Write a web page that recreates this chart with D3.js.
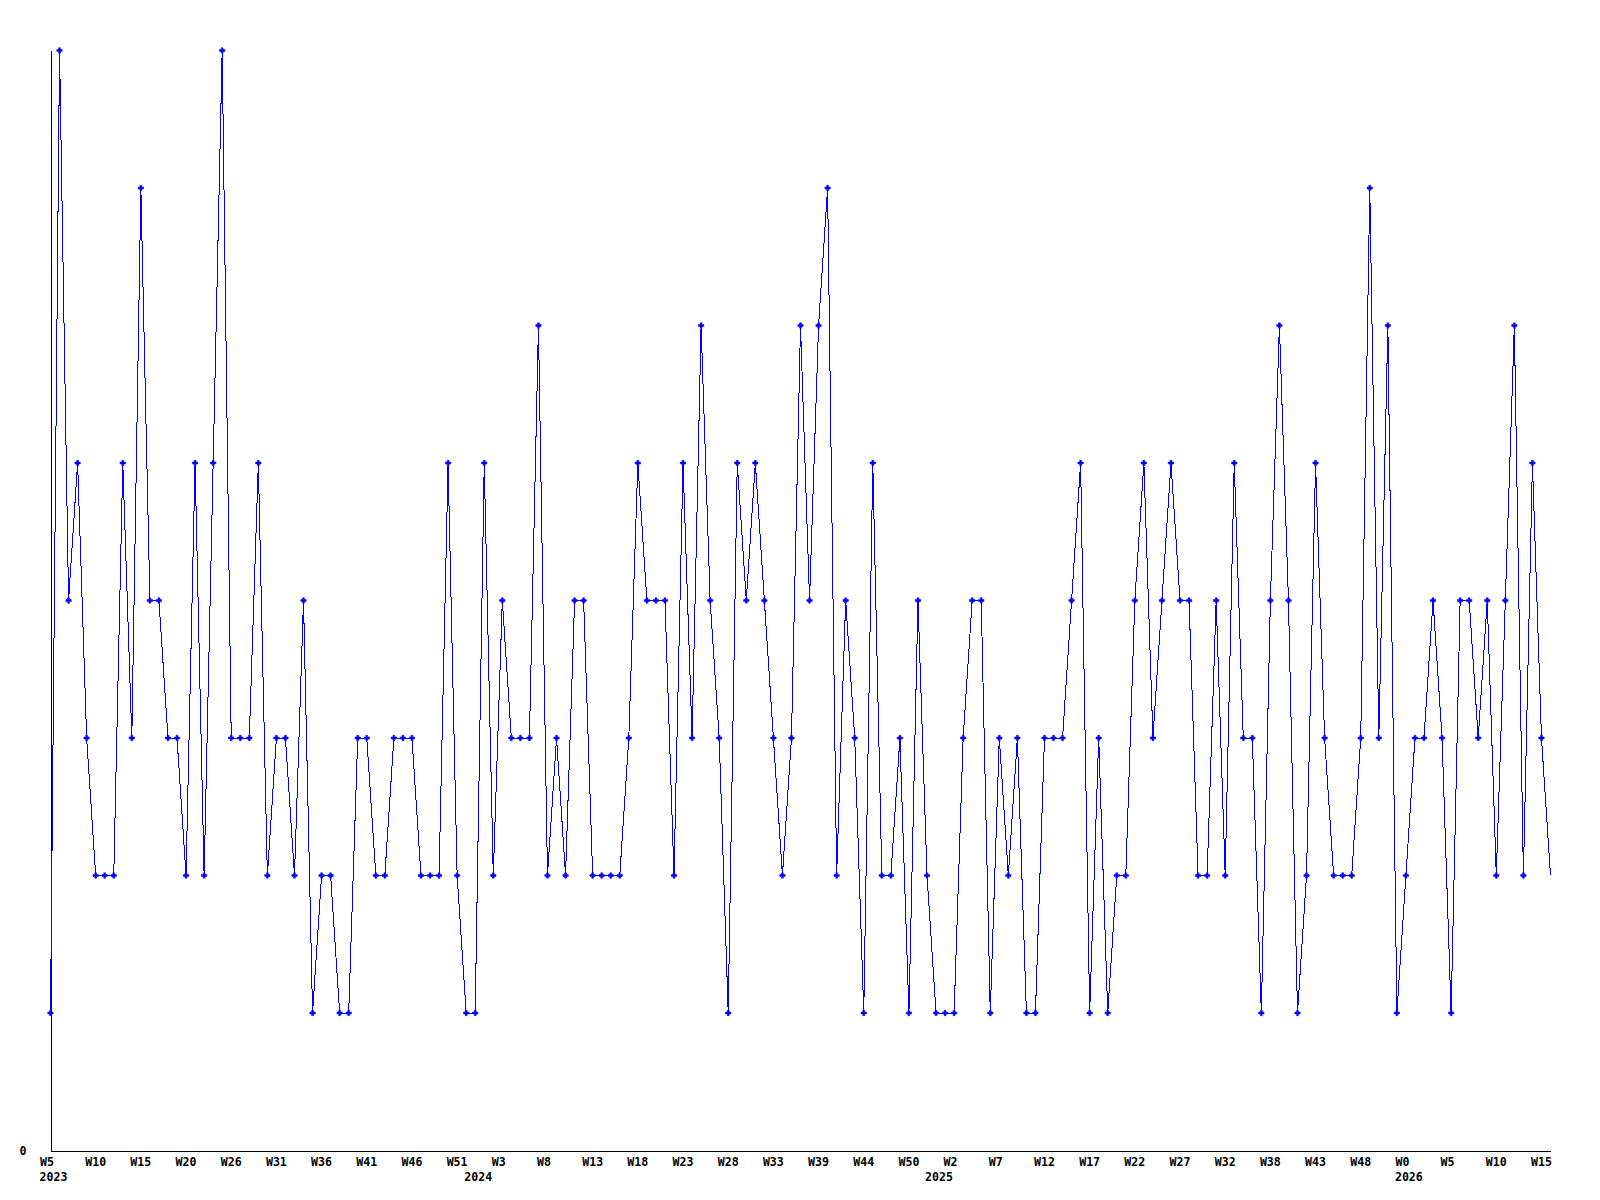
<!DOCTYPE html>
<html>
<head>
<meta charset="utf-8">
<script src="https://cdn.jsdelivr.net/npm/d3@7"></script>
<style>
  html, body { margin: 0; padding: 0; background: #fff; }
  svg { display: block; }
  text { font-family: "DejaVu Sans Mono", monospace; font-weight: bold; font-size: 11.6px; fill: #000; }
</style>
</head>
<body>
<svg id="chart" width="1600" height="1200"></svg>
<script>
// Weekly values, 2023 W5 onward (one per point)
const values = [
  1,8,4,5,3,2,2,2,5,3,7,4,4,3,3,2,5,2,5,8,3,3,3,5,2,3,3,2,
  4,1,2,2,1,1,3,3,2,2,3,3,3,2,2,2,5,2,1,1,5,2,4,3,3,3,6,2,
  3,2,4,4,2,2,2,2,3,5,4,4,4,2,5,3,6,4,3,1,5,4,5,4,3,2,3,6,
  4,6,7,2,4,3,1,5,2,2,3,1,4,2,1,1,1,3,4,4,1,3,2,3,1,1,3,
  3,3,4,5,1,3,1,2,2,4,5,3,4,5,4,4,2,2,4,2,5,3,3,1,4,6,4,1,
  2,5,3,2,2,2,3,7,3,6,1,2,3,3,4,3,1,4,4,3,4,2,4,6,2,5,3,2
];
// Tick labels, one every 5 points
const tickLabels = ["W5","W10","W15","W20","W26","W31","W36","W41","W46","W51",
  "W3","W8","W13","W18","W23","W28","W33","W39","W44","W50",
  "W2","W7","W12","W17","W22","W27","W32","W38","W43","W48",
  "W0","W5","W10","W15"];
const tickStep = 5;
// Year labels and the point index where each year begins
const yearLabels = ["2023","2024","2025","2026"];
const yearIndex = [0,47,98,150];
const yTickValues = [0];

const svg = d3.select("#chart");
const mLeft = 50.5, mRight = 1550.5, mTop = 50.5, mBottom = 1150.5;

const x = d3.scaleLinear().domain([0, values.length - 1]).range([mLeft, mRight]);
const y = d3.scaleLinear().domain([0, 8]).range([mBottom, mTop]);

// y axis
const yAxis = d3.axisLeft(y).tickValues(yTickValues).tickSize(0).tickSizeOuter(0).tickPadding(0);
const gy = svg.append("g").attr("transform", `translate(${mLeft},0)`).call(yAxis);
gy.select(".domain").attr("stroke", "#000").attr("shape-rendering", "crispEdges");
gy.selectAll("text").attr("text-anchor", "start").attr("x", -31).attr("dy", "0.35em");

// x axis
const tickIdx = tickLabels.map((t, k) => k * tickStep);
const xAxis = d3.axisBottom(x).tickValues(tickIdx).tickSize(0).tickSizeOuter(0)
  .tickFormat((d, k) => tickLabels[k]);
const gx = svg.append("g").attr("transform", `translate(0,${mBottom})`).call(xAxis);
gx.select(".domain").attr("stroke", "#000").attr("shape-rendering", "crispEdges");
gx.selectAll("text").attr("text-anchor", "start").attr("x", -11).attr("y", 0).attr("dy", 15.5);

// year labels
svg.append("g").selectAll("text")
  .data(yearLabels)
  .join("text")
  .attr("x", (d, k) => x(yearIndex[k]) - 11)
  .attr("y", mBottom + 30.5)
  .text(d => d);

// line
const line = d3.line().x((d, i) => x(i)).y(d => y(d));
svg.append("path")
  .datum(values)
  .attr("d", line)
  .attr("fill", "none")
  .attr("stroke", "#0000ff")
  .attr("stroke-width", 1)
  .attr("shape-rendering", "crispEdges");

// markers
const cross = d3.symbol().type(d3.symbolCross).size(16);
svg.append("g").selectAll("path")
  .data(values.slice(0, values.length - 1))
  .join("path")
  .attr("d", cross)
  .attr("transform", (d, i) => `translate(${x(i)},${y(d)})`)
  .attr("fill", "#0000ff")
  .attr("stroke", "#0000ff")
  .attr("stroke-width", 0.6);
</script>
</body>
</html>
